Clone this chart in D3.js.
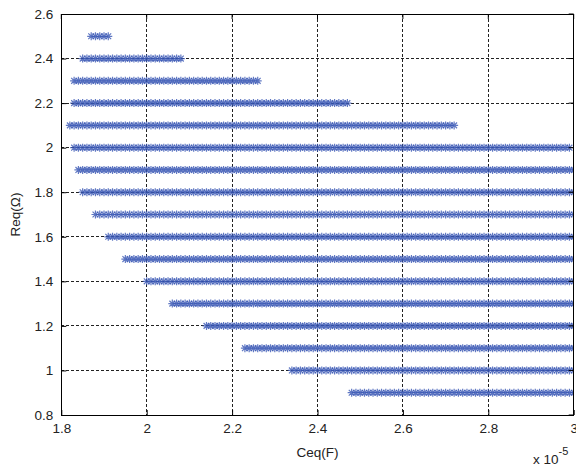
<!DOCTYPE html>
<html>
<head>
<meta charset="utf-8">
<script src="https://cdnjs.cloudflare.com/ajax/libs/d3/7.8.5/d3.min.js"></script>
<style>
  body { margin: 0; background: #fff; }
  text { font-family: "Liberation Sans", Arial, sans-serif; fill: #222; }
</style>
</head>
<body>
<svg id="canvas"></svg>
<script>
// Rows of the sweep: Req value, first and last Ceq value (x 1e-5), step 0.01.
var reqValues = [0.9, 1.0, 1.1, 1.2, 1.3, 1.4, 1.5, 1.6, 1.7, 1.8, 1.9, 2.0, 2.1, 2.2, 2.3, 2.4, 2.5];
var ceqStart  = [2.48, 2.34, 2.23, 2.14, 2.06, 2.00, 1.95, 1.91, 1.88, 1.85, 1.84, 1.83, 1.82, 1.83, 1.83, 1.85, 1.87];
var ceqEnd    = [3.00, 3.00, 3.00, 3.00, 3.00, 3.00, 3.00, 3.00, 3.00, 3.00, 3.00, 2.99, 2.72, 2.47, 2.26, 2.08, 1.91];
var ceqStep = 0.01;

// Tick labels.
var xTicks = [1.8, 2, 2.2, 2.4, 2.6, 2.8, 3];
var yTicks = [0.8, 1, 1.2, 1.4, 1.6, 1.8, 2, 2.2, 2.4, 2.6];

// Canvas settings.
var canvas = {
  dim: { w: 576, h: 468 },
  margin: { l: 61.3, r: 2.3, t: 14, b: 53 },
  colours: { marker: '#3856b4', axis: '#000', grid: '#222' }
};

var pw = canvas.dim.w - canvas.margin.l - canvas.margin.r;
var ph = canvas.dim.h - canvas.margin.t - canvas.margin.b;

var svg = d3.select('#canvas')
            .attr('width', canvas.dim.w)
            .attr('height', canvas.dim.h);

var x = d3.scaleLinear().domain([1.8, 3]).range([0, pw]);
var y = d3.scaleLinear().domain([0.8, 2.6]).range([ph, 0]);

var g = svg.append('g')
           .attr('transform', 'translate(' + canvas.margin.l + ',' + canvas.margin.t + ')');

svg.append('defs').append('clipPath').attr('id', 'clip')
   .append('rect').attr('width', pw).attr('height', ph);

// Grid lines.
g.append('g').selectAll('line').data(xTicks.slice(1, -1)).enter().append('line')
  .attr('x1', function(d) { return x(d); }).attr('x2', function(d) { return x(d); })
  .attr('y1', 0).attr('y2', ph)
  .attr('stroke', canvas.colours.grid).attr('stroke-dasharray', '3,2').attr('shape-rendering', 'crispEdges');

g.append('g').selectAll('line').data(yTicks.slice(1, -1)).enter().append('line')
  .attr('y1', function(d) { return y(d); }).attr('y2', function(d) { return y(d); })
  .attr('x1', 0).attr('x2', pw)
  .attr('stroke', canvas.colours.grid).attr('stroke-dasharray', '3,2').attr('shape-rendering', 'crispEdges');

// Build points for each row.
var points = [];
for (var i = 0; i < reqValues.length; i++) {
  var n = Math.round((ceqEnd[i] - ceqStart[i]) / ceqStep);
  for (var k = 0; k <= n; k++) {
    points.push({ c: ceqStart[i] + k * ceqStep, r: reqValues[i] });
  }
}

// Asterisk marker.
var star = 'M0,-4V4M-4,0H4M-2.9,-2.9L2.9,2.9M-2.9,2.9L2.9,-2.9';

g.append('g').attr('clip-path', 'url(#clip)')
  .selectAll('path').data(points).enter().append('path')
  .attr('d', star)
  .attr('transform', function(d) { return 'translate(' + x(d.c) + ',' + y(d.r) + ')'; })
  .attr('fill', 'none')
  .attr('stroke', canvas.colours.marker)
  .attr('stroke-width', 1.2)
  .attr('opacity', 0.8);

// Axes (MATLAB-like: inward ticks, box).
var xAxis = d3.axisBottom(x).tickValues(xTicks).tickSizeInner(-5).tickSizeOuter(0).tickPadding(8)
              .tickFormat(function(d) { return d3.format('~g')(d); });
var yAxis = d3.axisLeft(y).tickValues(yTicks).tickSizeInner(-5).tickSizeOuter(0).tickPadding(8)
              .tickFormat(function(d) { return d3.format('~g')(d); });

var gx = g.append('g').attr('transform', 'translate(0,' + ph + ')').call(xAxis);
var gy = g.append('g').call(yAxis);
[gx, gy].forEach(function(a) {
  a.select('.domain').remove();
  a.selectAll('text').style('font-size', '13.5px').attr('fill', '#222');
  a.selectAll('line').attr('stroke', canvas.colours.axis);
});

// Top and right ticks.
g.append('g').selectAll('line').data(xTicks).enter().append('line')
  .attr('x1', function(d) { return x(d); }).attr('x2', function(d) { return x(d); })
  .attr('y1', 0).attr('y2', 5).attr('stroke', canvas.colours.axis);
g.append('g').selectAll('line').data(yTicks).enter().append('line')
  .attr('y1', function(d) { return y(d); }).attr('y2', function(d) { return y(d); })
  .attr('x1', pw).attr('x2', pw - 5).attr('stroke', canvas.colours.axis);

// Box.
g.append('rect').attr('width', pw).attr('height', ph)
  .attr('fill', 'none').attr('stroke', canvas.colours.axis).attr('shape-rendering', 'crispEdges');

// Axis labels.
svg.append('text')
   .attr('x', canvas.margin.l + pw / 2).attr('y', 457)
   .attr('text-anchor', 'middle').style('font-size', '13.5px')
   .text('Ceq(F)');

svg.append('text')
   .attr('transform', 'translate(20,' + (canvas.margin.t + ph / 2) + ') rotate(-90)')
   .attr('text-anchor', 'middle').style('font-size', '13.5px')
   .text('Req(Ω)');

var mult = svg.append('text').attr('x', 533).attr('y', 464).style('font-size', '13.5px');
mult.append('tspan').text('x 10');
mult.append('tspan').attr('dy', -9).style('font-size', '11px').text('-5');
</script>
</body>
</html>
